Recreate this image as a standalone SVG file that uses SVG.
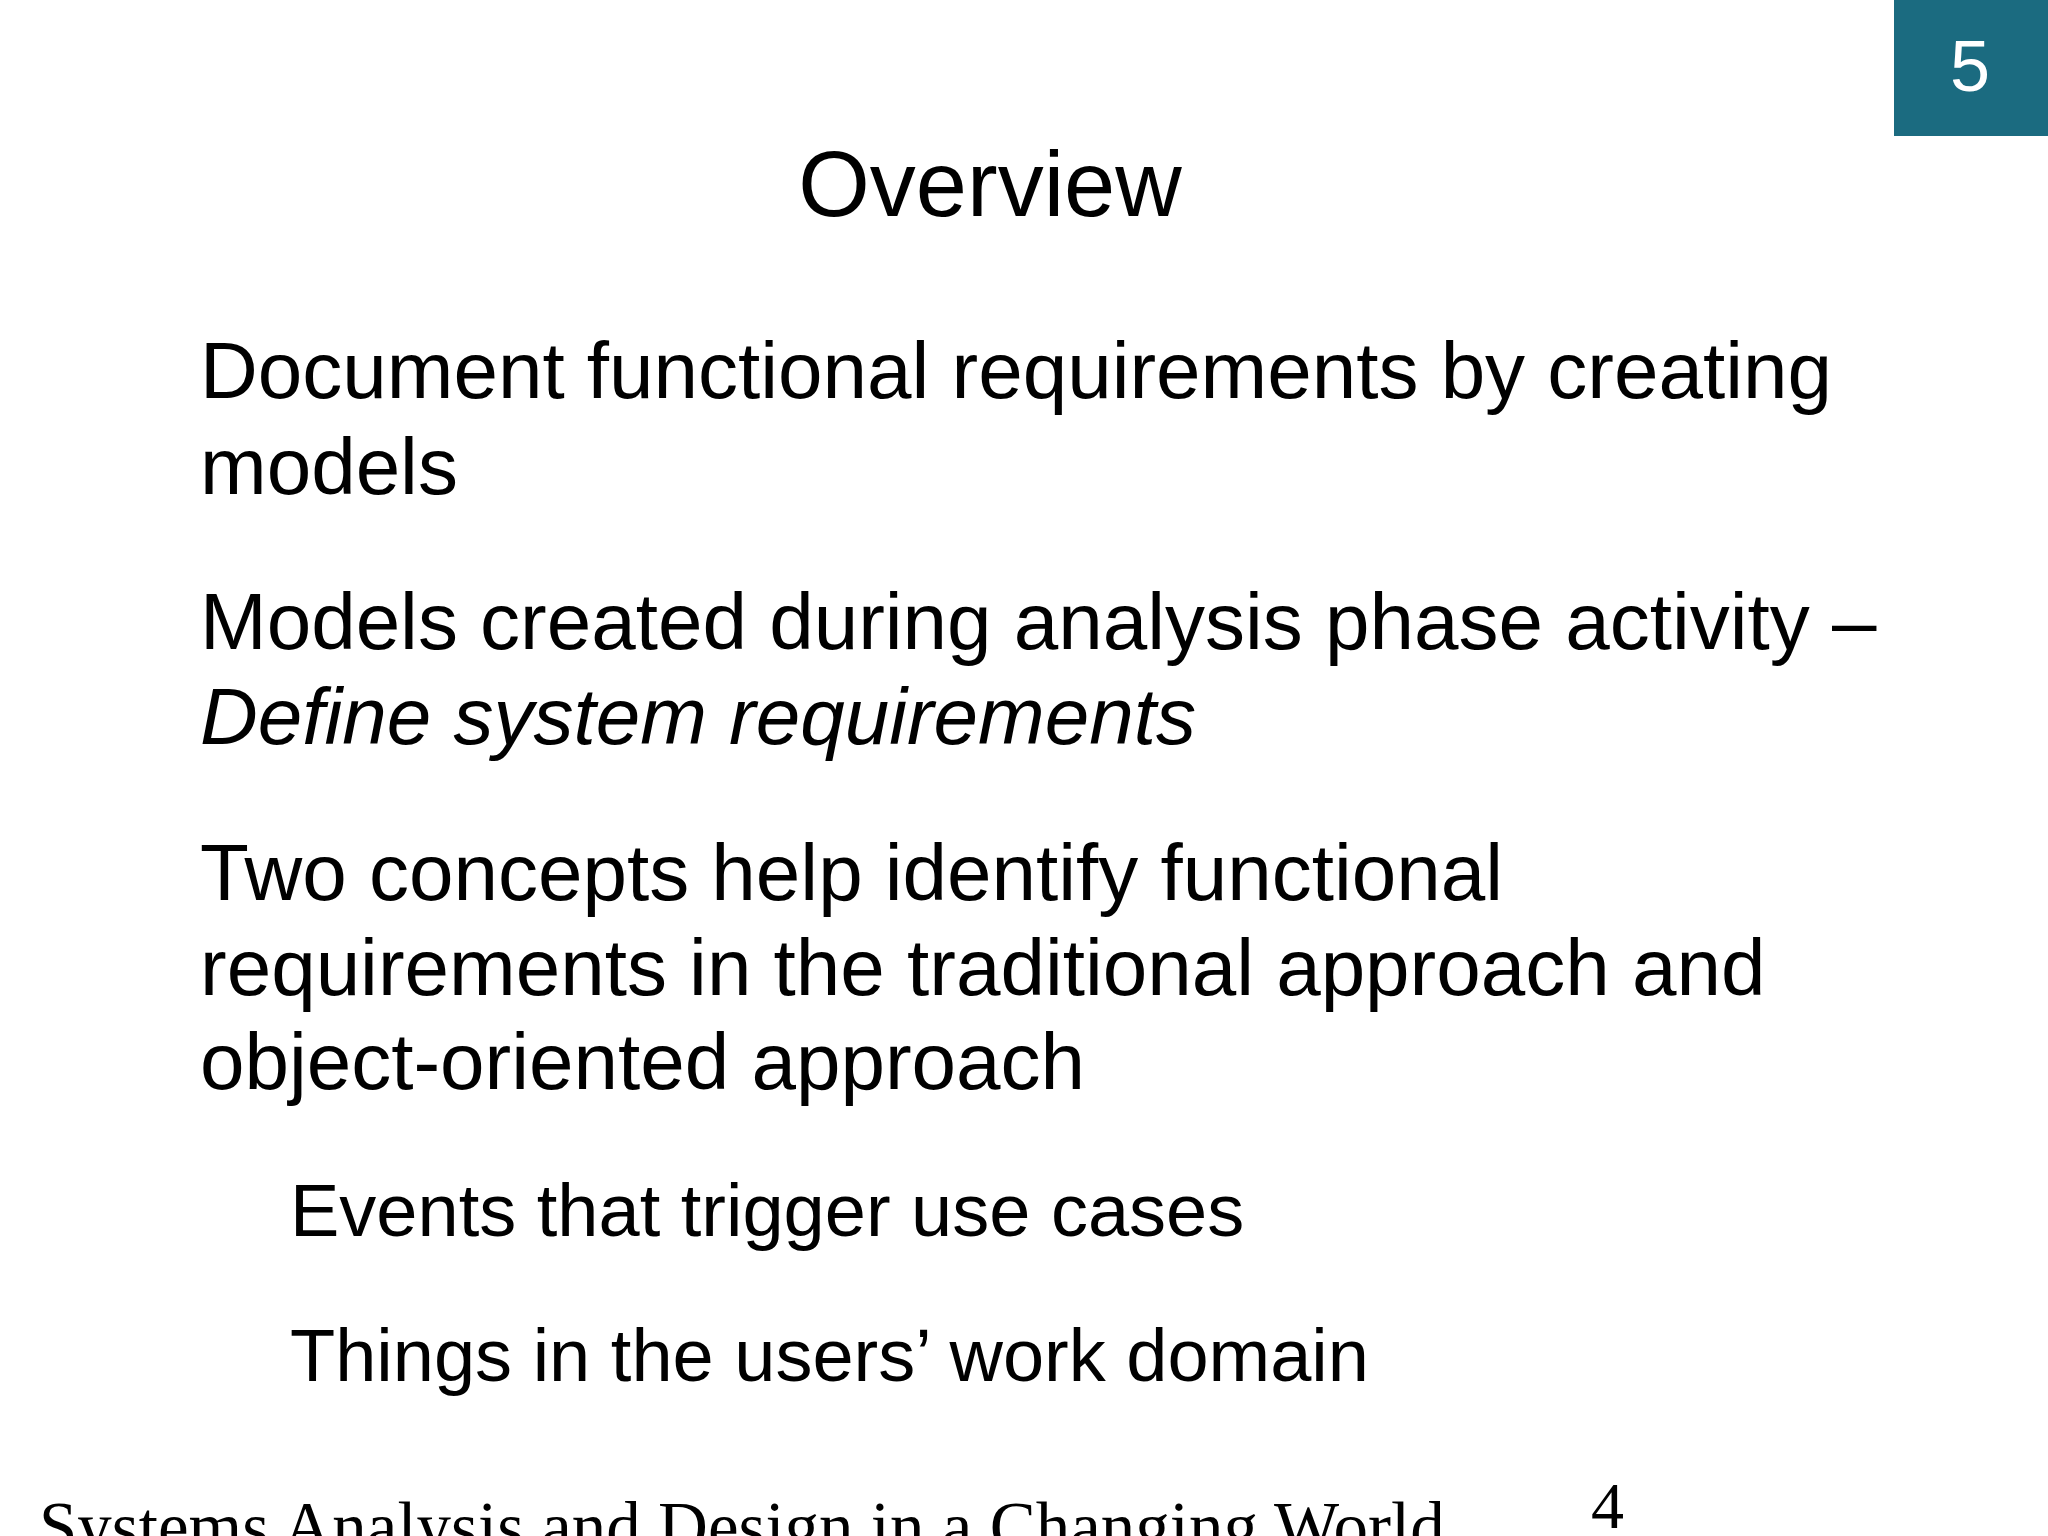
<svg xmlns="http://www.w3.org/2000/svg" width="2048" height="1536" viewBox="0 0 2048 1536">
<style>
.b{font-family:"Liberation Sans",Arial,sans-serif;font-size:80px;fill:#000}
.s{font-family:"Liberation Sans",Arial,sans-serif;font-size:74px;fill:#000}
.f{font-family:"Liberation Serif","Times New Roman",serif;fill:#000}
</style>
<rect width="2048" height="1536" fill="#fff"/>
<g id="badge"><rect x="1894" y="0" width="154" height="136" fill="#1b6b80"/>
<text x="1970" y="91" text-anchor="middle" font-family="Liberation Sans,Arial,sans-serif" font-size="72" fill="#fff">5</text></g>
<g id="title"><text x="990" y="216" text-anchor="middle" font-family="Liberation Sans,Arial,sans-serif" font-size="92">Overview</text></g>
<g id="body">
<text class="b" x="200" y="398">Document functional requirements by creating</text>
<text class="b" x="200" y="494">models</text>
<text class="b" x="200" y="649">Models created during analysis phase activity –</text>
<text class="b" x="200" y="744" font-style="italic">Define system requirements</text>
<text class="b" x="200" y="900">Two concepts help identify functional</text>
<text class="b" x="200" y="995">requirements in the traditional approach and</text>
<text class="b" x="200" y="1089">object-oriented approach</text>
<text class="s" x="290" y="1236">Events that trigger use cases</text>
<text class="s" x="290" y="1381">Things in the users’ work domain</text>
</g>
<g id="footer">
<text class="f" x="39" y="1550" font-size="69">Systems Analysis and Design in a Changing World</text>
<text class="f" x="1591" y="1528" font-size="66">4</text>
</g>
</svg>
